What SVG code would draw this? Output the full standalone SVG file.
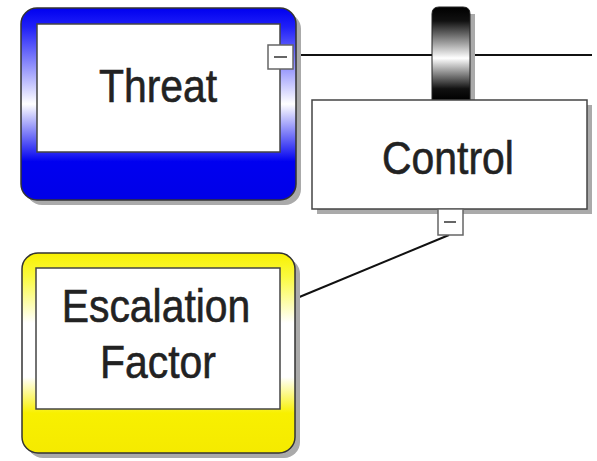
<svg xmlns="http://www.w3.org/2000/svg" width="597" height="461" viewBox="0 0 597 461">
<defs>
<linearGradient id="gBlue" x1="0" y1="0" x2="0" y2="1">
<stop offset="0" stop-color="#0000f0"/>
<stop offset="0.1" stop-color="#2020f8"/>
<stop offset="0.5" stop-color="#ffffff"/>
<stop offset="0.8" stop-color="#0000f0"/>
<stop offset="1" stop-color="#0000e8"/>
</linearGradient>
<linearGradient id="gYellow" x1="0" y1="0" x2="0" y2="1">
<stop offset="0" stop-color="#f8f000"/>
<stop offset="0.12" stop-color="#fafa40"/>
<stop offset="0.35" stop-color="#ffffff"/>
<stop offset="0.62" stop-color="#ffffff"/>
<stop offset="0.8" stop-color="#f8f000"/>
<stop offset="1" stop-color="#f5ea00"/>
</linearGradient>
<linearGradient id="gBar" x1="0" y1="0" x2="0" y2="1">
<stop offset="0" stop-color="#000"/>
<stop offset="0.15" stop-color="#111"/>
<stop offset="0.55" stop-color="#fff"/>
<stop offset="0.88" stop-color="#111"/>
<stop offset="1" stop-color="#000"/>
</linearGradient>
<style>
.shadow{fill:#aaa;}
.outer{stroke:#333;stroke-width:1.5;}
.inner{fill:#fff;stroke:#444;stroke-width:1.5;}
.port{fill:#fff;stroke:#666;stroke-width:1.5;}
.dash{stroke:#666;stroke-width:2;}
.lbl{font-family:"Liberation Sans",Arial,sans-serif;font-size:47px;fill:#222;stroke:#222;stroke-width:0.6;text-anchor:middle;}
.conn{stroke:#111;stroke-width:2;fill:none;}
</style>
</defs>
<g id="connectors">
<line class="conn" x1="293" y1="55" x2="592" y2="55"/>
<line class="conn" x1="449" y1="235" x2="297" y2="298"/>
</g>
<g id="threat">
<rect class="shadow" x="26" y="13" width="275" height="192" rx="16"/>
<rect class="outer" x="21" y="8" width="275" height="192" rx="16" fill="url(#gBlue)"/>
<rect class="inner" x="37" y="24" width="243" height="128"/>
<text class="lbl" transform="translate(158,102) scale(0.87,1)">Threat</text>
<rect class="port" x="268" y="45" width="25" height="24"/>
<line class="dash" x1="274" y1="57" x2="287" y2="57"/>
</g>
<g id="barrier">
<rect class="shadow" x="437" y="14" width="38" height="90"/>
<path d="M432,100 V14 Q432,7 439,7 H463 Q470,7 470,14 V100 Z" fill="url(#gBar)" stroke="#222" stroke-width="1"/>
</g>
<g id="control">
<rect class="shadow" x="317" y="105" width="275" height="109"/>
<rect class="inner" x="312" y="100" width="275" height="109"/>
<text class="lbl" transform="translate(448,174) scale(0.87,1)">Control</text>
<rect class="port" x="438" y="209" width="25" height="26"/>
<line class="dash" x1="444" y1="222" x2="456" y2="222"/>
</g>
<g id="escalation">
<rect class="shadow" x="27" y="258" width="273" height="200" rx="16"/>
<rect class="outer" x="22" y="253" width="273" height="200" rx="16" fill="url(#gYellow)"/>
<rect class="inner" x="36" y="268" width="244" height="141"/>
<text class="lbl" transform="translate(156,322) scale(0.87,1)">Escalation</text>
<text class="lbl" transform="translate(158,378) scale(0.87,1)">Factor</text>
</g>
</svg>
